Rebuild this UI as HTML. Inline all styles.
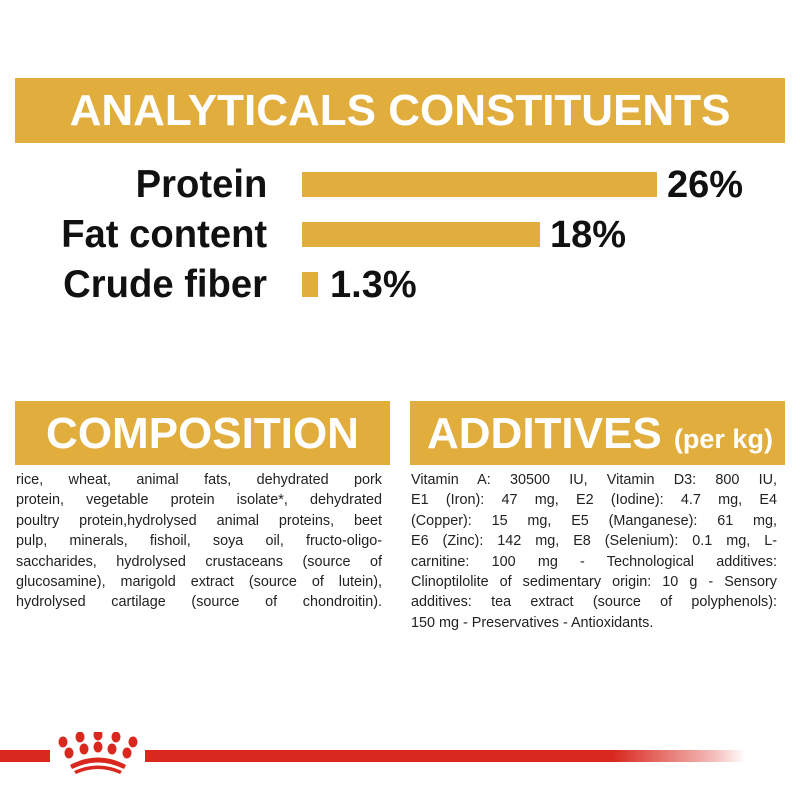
<!DOCTYPE html>
<html><head><meta charset="utf-8"><style>
*{margin:0;padding:0;box-sizing:border-box}
body{width:800px;height:800px;background:#fff;position:relative;overflow:hidden;font-family:"Liberation Sans",sans-serif;color:#1a1a1a}
.band{position:absolute;background:#e1ad3d;color:#fff;font-weight:bold;white-space:nowrap}
.lbl{position:absolute;right:533px;font-weight:bold;font-size:39px;white-space:nowrap;line-height:1;color:#111;transform:scaleX(0.98);transform-origin:right}
.bar{position:absolute;left:302px;height:25px;background:#e1ad3d}
.pct{position:absolute;font-weight:bold;font-size:38px;line-height:1;color:#111}
.txt{position:absolute;font-size:14.4px;line-height:20.4px;color:#222}
.txt div{text-align:justify;text-align-last:justify;white-space:nowrap;overflow:visible}
.txt div.l{text-align-last:left}
</style></head><body>
<div class="band" style="left:15px;top:78px;width:770px;height:65px;font-size:44px;line-height:65px;text-align:center">ANALYTICALS CONSTITUENTS</div>

<div class="lbl" style="top:165px">Protein</div>
<div class="bar" style="top:172px;width:355px"></div>
<div class="pct" style="left:667px;top:166px">26%</div>

<div class="lbl" style="top:215px">Fat content</div>
<div class="bar" style="top:222px;width:238px"></div>
<div class="pct" style="left:550px;top:216px">18%</div>

<div class="lbl" style="top:265px">Crude fiber</div>
<div class="bar" style="top:272px;width:16px"></div>
<div class="pct" style="left:330px;top:266px">1.3%</div>

<div class="band" style="left:15px;top:401px;width:375px;height:64px;font-size:44px;line-height:66px;text-align:center">COMPOSITION</div>
<div class="band" style="left:410px;top:401px;width:375px;height:64px;font-size:44px;line-height:66px;padding-left:17px">ADDITIVES <span style="font-size:27px">(per kg)</span></div>

<div class="txt" style="left:16px;top:470px;width:366px">
<div>rice, wheat, animal fats, dehydrated pork</div>
<div>protein, vegetable protein isolate*, dehydrated</div>
<div>poultry protein,hydrolysed animal proteins, beet</div>
<div>pulp, minerals, fishoil, soya oil, fructo-oligo-</div>
<div>saccharides, hydrolysed crustaceans (source of</div>
<div>glucosamine), marigold extract (source of lutein),</div>
<div>hydrolysed cartilage (source of chondroitin).</div>
</div>

<div class="txt" style="left:411px;top:470px;width:366px">
<div>Vitamin A: 30500 IU, Vitamin D3: 800 IU,</div>
<div>E1 (Iron): 47 mg, E2 (Iodine): 4.7 mg, E4</div>
<div>(Copper): 15 mg, E5 (Manganese): 61 mg,</div>
<div>E6 (Zinc): 142 mg, E8 (Selenium): 0.1 mg, L-</div>
<div>carnitine: 100 mg - Technological additives:</div>
<div>Clinoptilolite of sedimentary origin: 10 g - Sensory</div>
<div>additives: tea extract (source of polyphenols):</div>
<div class="l">150 mg - Preservatives - Antioxidants.</div>
</div>

<div style="position:absolute;left:0;top:750px;width:50px;height:12px;background:#d9291f"></div>
<div style="position:absolute;left:145px;top:750px;width:600px;height:12px;background:linear-gradient(to right,#d9291f 0%,#d9291f 78%,rgba(217,41,31,0.3) 95%,rgba(217,41,31,0) 100%)"></div>
<svg style="position:absolute;left:56px;top:732px" width="84" height="44" viewBox="0 0 84 44">
<g fill="#d9291f">
<ellipse cx="7" cy="10" rx="4.5" ry="5.5"/><ellipse cx="24" cy="5" rx="4.5" ry="5.5"/><ellipse cx="42" cy="3" rx="4.5" ry="5.5"/><ellipse cx="60" cy="5" rx="4.5" ry="5.5"/><ellipse cx="77" cy="10" rx="4.5" ry="5.5"/>
<ellipse cx="13" cy="21" rx="4.5" ry="5.5"/><ellipse cx="28" cy="17" rx="4.5" ry="5.5"/><ellipse cx="42" cy="15" rx="4.5" ry="5.5"/><ellipse cx="56" cy="17" rx="4.5" ry="5.5"/><ellipse cx="71" cy="21" rx="4.5" ry="5.5"/>
<path d="M14 33 Q42 18 70 33 L68 37 Q42 24 16 37Z"/>
<path d="M18 39 Q42 28 66 39 L64 42 Q42 32 20 42Z"/>
</g></svg>
</body></html>
